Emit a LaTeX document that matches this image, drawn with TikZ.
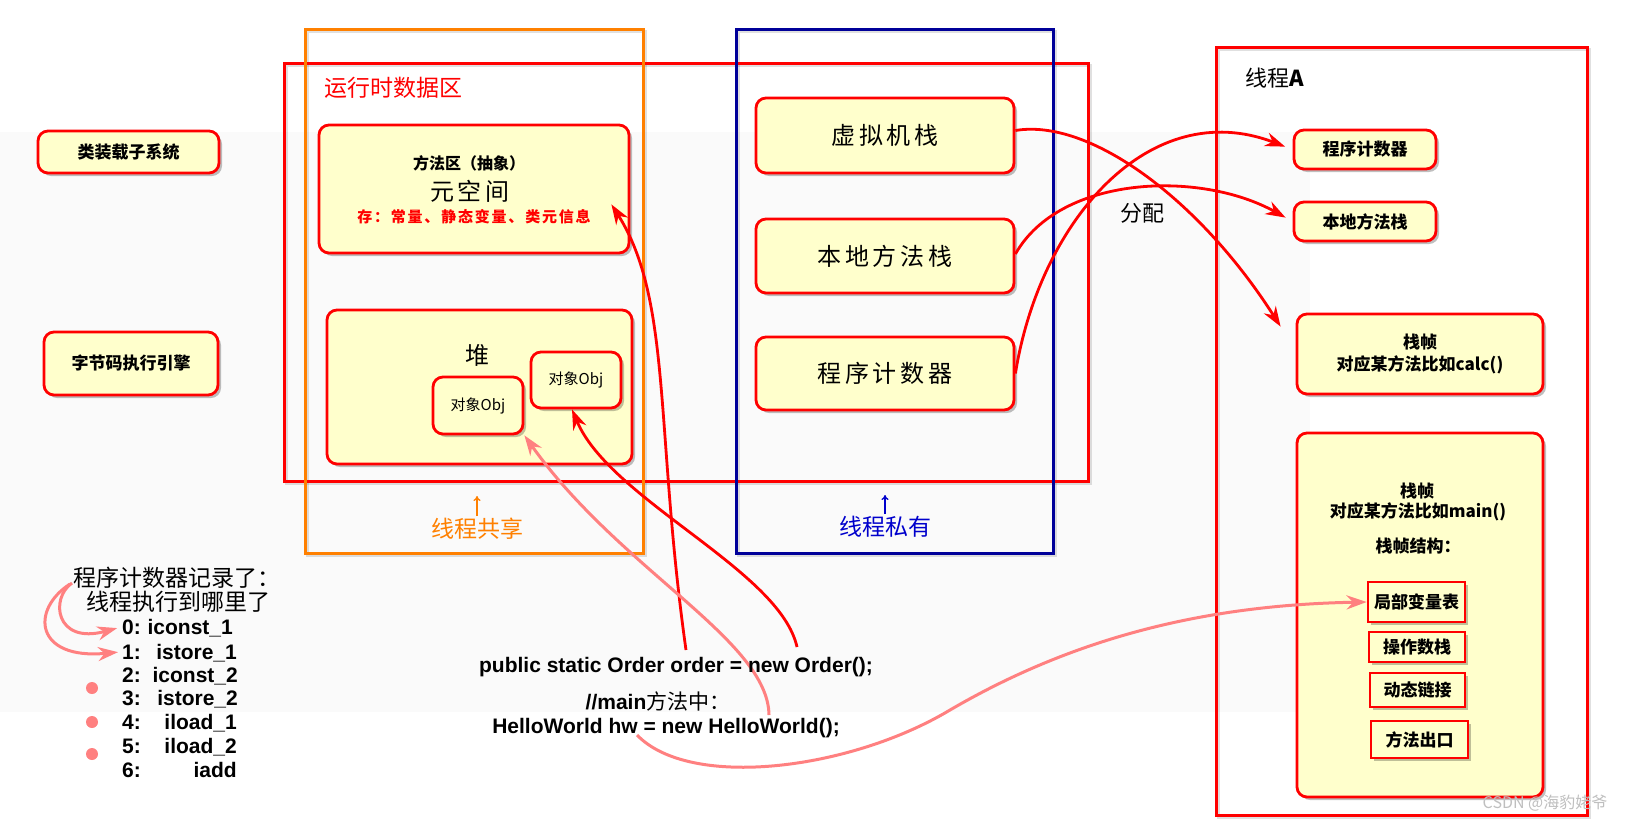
\documentclass[tikz,border=0pt]{standalone}
\usepackage{fontspec}
\setmainfont{Noto Sans CJK SC}
\newfontfamily\lib{Liberation Sans}
\usetikzlibrary{shadows,arrows.meta}
\definecolor{boxfill}{HTML}{FFFFCC}
\definecolor{jred}{HTML}{FF0000}
\definecolor{jorange}{HTML}{FF8000}
\definecolor{jblue}{HTML}{000099}
\definecolor{jtblue}{HTML}{0000CC}
\definecolor{jpink}{HTML}{FF8080}
\definecolor{bggray}{HTML}{FAFAFA}
\newcommand\myfs[2]{\fontsize{#1}{#2}\selectfont}
\tikzset{
 ybox/.style={draw=jred, line width=2.8pt, fill=boxfill, rounded corners=10pt, inner sep=0pt,
   drop shadow={shadow xshift=3pt, shadow yshift=-3pt, fill=black, opacity=0.25}},
 sqbox/.style={ybox, rounded corners=0pt},
 jframe/.style={line width=3pt},
 fshadow/.style={line width=3pt, draw=black, opacity=0.12},
 redarrow/.style={draw=jred, line width=2.8pt, -{Stealth[length=20pt,width=14pt]}},
 pinkarrow/.style={draw=jpink, line width=3pt, -{Stealth[length=20pt,width=14pt]}},
 lbl/.style={inner sep=0pt},
 bc/.style={lbl, font={\lib\myfs{21}{24}\bfseries}},
 codetxt/.style={lbl, font={\lib\myfs{21}{24}\bfseries}},
 bigtxt/.style={font={\myfs{24}{28}\addfontfeatures{LetterSpace=15}}},
 midtxt/.style={font={\myfs{17}{20}\bfseries}},
}
\begin{document}
\begin{tikzpicture}[x=1pt,y=-1pt]
\useasboundingbox (0,0) rectangle (1629,822);
\fill[white] (0,0) rectangle (1629,822);
\fill[bggray] (0,132) rectangle (1310,712);

% frames
\foreach \a/\b/\c/\d in {284/63/1088/481, 305/29/643/553, 736/29/1053/553, 1216/47/1587/815}
  \draw[fshadow] (\a+2.5,\b+2.5) rectangle (\c+2.5,\d+2.5);
\draw[jframe,jred] (284,63) rectangle (1088,481);
\draw[jframe,jorange] (305,29) rectangle (643,553);
\draw[jframe,jblue] (736,29) rectangle (1053,553);
\draw[jframe,jred] (1216,47) rectangle (1587,815);

% left boxes
\node[ybox, midtxt, minimum width=181pt, minimum height=42pt] (cls) at (128.5,152) {类装载子系统};
\node[ybox, midtxt, minimum width=174pt, minimum height=63pt] (exe) at (131,363.5) {字节码执行引擎};

% method area
\node[ybox, minimum width=310pt, minimum height=128pt] (method) at (474,189) {};
\node[lbl, font={\myfs{16}{19}\bfseries}] (mt1) at (469,163) {方法区（抽象）};
\node[lbl, bigtxt] (mt2) at (470,191) {元空间};
\node[lbl, text=jred, font={\myfs{15}{18}\bfseries\addfontfeatures{LetterSpace=12}}] (mt3) at (474,217) {存：常量、静态变量、类元信息};

% heap
\node[ybox, minimum width=305pt, minimum height=154pt] (heap) at (479.5,387) {};
\node[lbl, font={\myfs{24}{28}}] (heapt) at (477,355) {堆};
\node[ybox, minimum width=90pt, minimum height=57pt, font={\myfs{15}{18}}] (objA) at (478,405.5) {对象Obj};
\node[ybox, minimum width=90pt, minimum height=56pt, font={\myfs{15}{18}}] (objB) at (576,380) {对象Obj};

% thread private
\node[ybox, bigtxt, minimum width=258pt, minimum height=75pt] (vms) at (885,135.5) {虚拟机栈};
\node[ybox, bigtxt, minimum width=258pt, minimum height=74pt] (nms) at (885,256) {本地方法栈};
\node[ybox, bigtxt, minimum width=258pt, minimum height=73pt] (pc) at (885,373.5) {程序计数器};

% thread A
\node[lbl, font={\myfs{22}{26}}] (tA) at (1275,78) {线程\textbf{A}};
\node[ybox, midtxt, minimum width=142pt, minimum height=39pt] (pcA) at (1365,149.5) {程序计数器};
\node[ybox, midtxt, minimum width=142pt, minimum height=39pt] (nmsA) at (1365,221.5) {本地方法栈};
\node[ybox, font={\myfs{17}{22}\bfseries}, align=center, minimum width=246pt, minimum height=80pt] (calc) at (1420,354) {栈帧\\对应某方法比如calc()};
\node[ybox, minimum width=246pt, minimum height=364pt] (mainF) at (1420,615) {};
\node[lbl, midtxt] (mf1) at (1417,491) {栈帧};
\node[lbl, midtxt] (mf2) at (1418,512) {对应某方法比如main()};
\node[lbl, midtxt] (mf3) at (1418,546) {栈帧结构：};
\node[sqbox, midtxt, minimum width=97pt, minimum height=40pt] (lvt) at (1416.5,602) {局部变量表};
\node[sqbox, midtxt, minimum width=96pt, minimum height=30pt] (ops) at (1417,647) {操作数栈};
\node[sqbox, midtxt, minimum width=95pt, minimum height=34pt] (dyn) at (1417.5,690) {动态链接};
\node[sqbox, midtxt, minimum width=97pt, minimum height=37pt] (mex) at (1419.5,739.5) {方法出口};

% labels
\node[lbl, font={\myfs{23}{27}}, text=jred] (rtl) at (393,88) {运行时数据区};
\node[lbl, font={\myfs{23}{27}}, text=jorange] (share) at (477,529) {线程共享};
\node[lbl, font={\myfs{23}{27}}, text=jtblue] (priv) at (885,527) {线程私有};
\coordinate (sa) at (477,516); \coordinate (sb) at (477,496);
\draw[jorange, line width=1.3pt, -{To[length=5pt,width=7pt]}] (sa) -- (sb);
\coordinate (pa1) at (885,514); \coordinate (pb1) at (885,495);
\draw[jtblue, line width=1.3pt, -{To[length=5pt,width=7pt]}] (pa1) -- (pb1);
\node[lbl, font={\myfs{22}{26}}] (fp) at (1142,213) {分配};

% left list
\node[lbl, font={\myfs{23}{27}}, anchor=west] (pcn1) at (73,578) {程序计数器记录了：};
\node[lbl, font={\myfs{23}{27}}, anchor=west] (pcn2) at (86,602) {线程执行到哪里了};
\foreach \k/\ins/\yy/\xr in {0/iconst\_1/634/233, 1/istore\_1/659/237, 2/iconst\_2/682/238, 3/istore\_2/705/238, 4/iload\_1/729/237, 5/iload\_2/753/237, 6/iadd/777/237} {
  \node[bc, anchor=base west] (bn\k) at (122,\yy) {\k:};
  \node[bc, anchor=base east] (bi\k) at (\xr,\yy) {\ins};
}
\foreach \yy in {688,722,754} \fill[jpink] (92,\yy) circle (6);
\coordinate (pl1) at (72,583);
\coordinate (pl2) at (70,584);
\draw[pinkarrow, shorten >=5pt] (pl1) .. controls (50,598) and (55,645) .. (bn0.west);
\draw[pinkarrow, shorten >=4pt] (pl2) .. controls (30,610) and (35,660) .. (bn1.west);

% arrows
\coordinate (s1) at (686,650);
\draw[redarrow] (s1) .. controls (655,430) and (672,300) .. ([xshift=-19pt,yshift=50pt]method.south east);
\coordinate (s2) at (797,647);
\draw[redarrow] (s2) .. controls (780,570) and (610,500) .. ([xshift=-4pt]objB.south);
\coordinate (s3) at (769,715);
\draw[pinkarrow] (s3) .. controls (768,640) and (620,570) .. (objA.south east);
\coordinate (s4) at (637,735);
\draw[pinkarrow] (s4) .. controls (690,790) and (850,770) .. (950,710) .. controls (1070,640) and (1200,605) .. (lvt.west);
\draw[redarrow] ([yshift=5pt]vms.east) .. controls (1090,118) and (1200,200) .. ([xshift=-15pt,yshift=-14pt]calc.north west);
\draw[redarrow, shorten >=8pt] ([yshift=2pt]nms.east) .. controls (1060,175) and (1200,170) .. (nmsA.west);
\draw[redarrow, shorten >=8pt] (pc.east) .. controls (1040,220) and (1150,95) .. (pcA.west);

% code
\node[codetxt, anchor=base] (c1) at (676,672) {public static Order order = new Order();};
\node[lbl, anchor=base, font={\myfs{21}{24}}] (c2) at (658,709) {{\lib\bfseries //main}方法中：};
\node[codetxt, anchor=base] (c3) at (666,733) {HelloWorld hw = new HelloWorld();};

% watermark
\node[lbl, font={\myfs{16}{19}}, text=black!25] (wm) at (1545,803) {CSDN @海豹姥爷};
\end{tikzpicture}
\end{document}
